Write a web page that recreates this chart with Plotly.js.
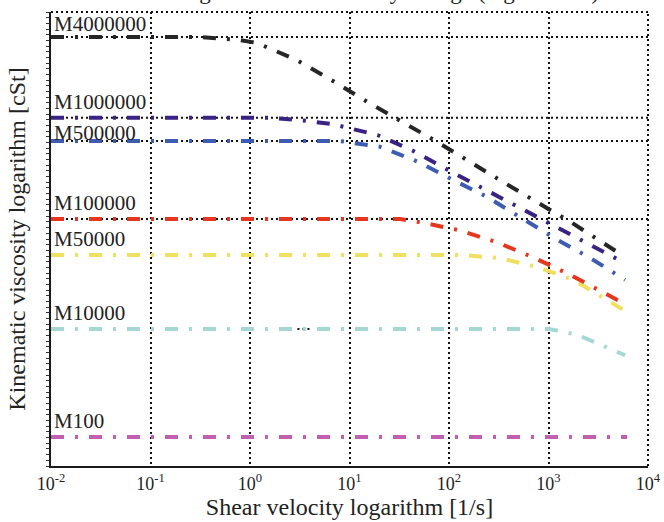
<!DOCTYPE html>
<html>
<head>
<meta charset="utf-8">
<script src="https://cdn.plot.ly/plotly-3.0.1.min.js"></script>
<style>html,body{margin:0;padding:0;background:#fff;}#chart{width:664px;height:522px;}</style>
</head>
<body>
<div id="chart"></div>
<script>
// ---- data (shear velocity [1/s], relative log-viscosity position) ----
const names = ["M100", "M10000", "M50000", "M100000", "M500000", "M1000000", "M4000000"];
const colors = ["#c25fb0", "#a6d8d3", "#efe062", "#e6361f", "#3e5db2", "#3a2382", "#262626"];

const x_M100 = [0.01, 6166];
const y_M100 = [6.4, 6.4];

const x_M10000 = [0.01, 1000, 1950, 4898, 5888];
const y_M10000 = [30.2, 30.2, 28.9, 25.1, 24.4];

const x_M50000 = [0.01, 129, 324, 776, 1778, 4169, 6166];
const y_M50000 = [46.5, 46.5, 45.8, 43.8, 41.0, 36.1, 33.9];

const x_M100000 = [0.01, 32.4, 51.3, 123, 302, 692, 1660, 3715, 5623];
const y_M100000 = [54.4, 54.4, 53.7, 52.0, 49.3, 46.0, 42.1, 38.1, 35.9];

const x_M500000 = [0.01, 7.94, 20.4, 49.0, 110, 240, 537, 1230, 2630, 5888];
const y_M500000 = [71.6, 71.6, 70.3, 67.0, 63.0, 59.3, 54.6, 49.8, 45.8, 41.0];

const x_M1000000 = [0.01, 1.58, 3.16, 6.76, 19.1, 43.7, 97.7, 224, 513, 1148, 2630, 5623];
const y_M1000000 = [76.7, 76.7, 76.2, 75.3, 72.9, 69.4, 65.2, 61.0, 57.0, 52.9, 48.7, 44.9];

const x_M4000000 = [0.01, 0.316, 0.794, 1.17, 2.95, 6.61, 15.1, 75.9, 347, 1738, 5623];
const y_M4000000 = [94.5, 94.5, 93.8, 93.2, 89.4, 85.0, 80.2, 71.4, 62.6, 53.5, 46.3];

const xs = [x_M100, x_M10000, x_M50000, x_M100000, x_M500000, x_M1000000, x_M4000000];
const ys = [y_M100, y_M10000, y_M50000, y_M100000, y_M500000, y_M1000000, y_M4000000];

// dotted reference levels (full width) and the partial one
const refNames = ["M4000000", "M1000000", "M500000", "M100000"];
const partialRefName = "M10000";
const partialRefStart = 1000;

const tickVals = [0.01, 0.1, 1, 10, 100, 1000, 10000];
const tickText = ["10<sup>-2</sup>", "10<sup>-1</sup>", "10<sup>0</sup>", "10<sup>1</sup>", "10<sup>2</sup>", "10<sup>3</sup>", "10<sup>4</sup>"];

const titleText = "Shear thinning: kinematic viscosity change (logarithmic)";
const xTitle = "Shear velocity logarithm [1/s]";
const yTitle = "Kinematic viscosity logarithm [cSt]";

// ---- build ----
const serif = "Liberation Serif, Times New Roman, serif";
const traces = names.map((n, i) => ({
  type: "scatter", mode: "lines", name: n,
  x: xs[i], y: ys[i],
  line: {color: colors[i], width: 4, dash: "13px,11px,3px,11px"},
  hoverinfo: "x+y+name"
}));

const dotLine = {color: "#111", width: 2, dash: "2px,3px"};
const shapes = [];
refNames.forEach(n => {
  const lvl = ys[names.indexOf(n)][0];
  shapes.push({type: "line", layer: "below", xref: "paper", yref: "y", x0: 0, x1: 1, y0: lvl, y1: lvl, line: dotLine});
});
{
  const lvl = ys[names.indexOf(partialRefName)][0];
  shapes.push({type: "line", layer: "below", xref: "x", yref: "y", x0: Math.log10(partialRefStart), x1: 4, y0: lvl, y1: lvl, line: dotLine});
}
// top border and right border (dotted)
shapes.push({type: "line", layer: "below", xref: "paper", yref: "paper", x0: 0, x1: 1, y0: 1, y1: 1, line: dotLine});
shapes.push({type: "line", layer: "below", xref: "paper", yref: "paper", x0: 1, x1: 1, y0: 0, y1: 1, line: dotLine});

const labelShift = {"M500000": -6, "M4000000": -1};
const annotations = names.map((n, i) => ({
  xref: "paper", yref: "y", x: 0, y: ys[i][0], xanchor: "left", yanchor: "bottom",
  xshift: 1, yshift: (labelShift[n] !== undefined ? labelShift[n] : 2),
  text: n, showarrow: false, font: {family: serif, size: 21, color: "#222"}
}));
annotations.push({
  xref: "paper", yref: "paper", x: 0.922, y: 1.013, xanchor: "right", yanchor: "bottom",
  text: titleText, showarrow: false, font: {family: serif, size: 23, color: "#222"}
});

const layout = {
  width: 664, height: 522,
  margin: {l: 51, r: 16, t: 12, b: 56, pad: 0},
  paper_bgcolor: "#fff", plot_bgcolor: "#fff",
  showlegend: false,
  font: {family: serif, color: "#222"},
  xaxis: {
    type: "log", range: [-2, 4],
    tickmode: "array", tickvals: tickVals, ticktext: tickText,
    tickfont: {family: serif, size: 18, color: "#222"},
    ticks: "", showgrid: true, gridcolor: "#111", gridwidth: 2, griddash: "2px,3px",
    showline: true, linecolor: "#1a1a1a", linewidth: 2, zeroline: false,
    title: {text: xTitle, font: {family: serif, size: 24, color: "#222"}, standoff: 6}
  },
  yaxis: {
    range: [0, 100], showticklabels: false,
    ticks: "outside", ticklen: 3, tickwidth: 1, tickcolor: "#333", dtick: 1.25, tick0: 0,
    showgrid: false, zeroline: false,
    showline: true, linecolor: "#1a1a1a", linewidth: 2,
    title: {text: yTitle, font: {family: serif, size: 24, color: "#222"}, standoff: 14}
  },
  shapes: shapes,
  annotations: annotations
};

Plotly.newPlot("chart", traces, layout, {displayModeBar: false, staticPlot: true});
</script>
</body>
</html>
